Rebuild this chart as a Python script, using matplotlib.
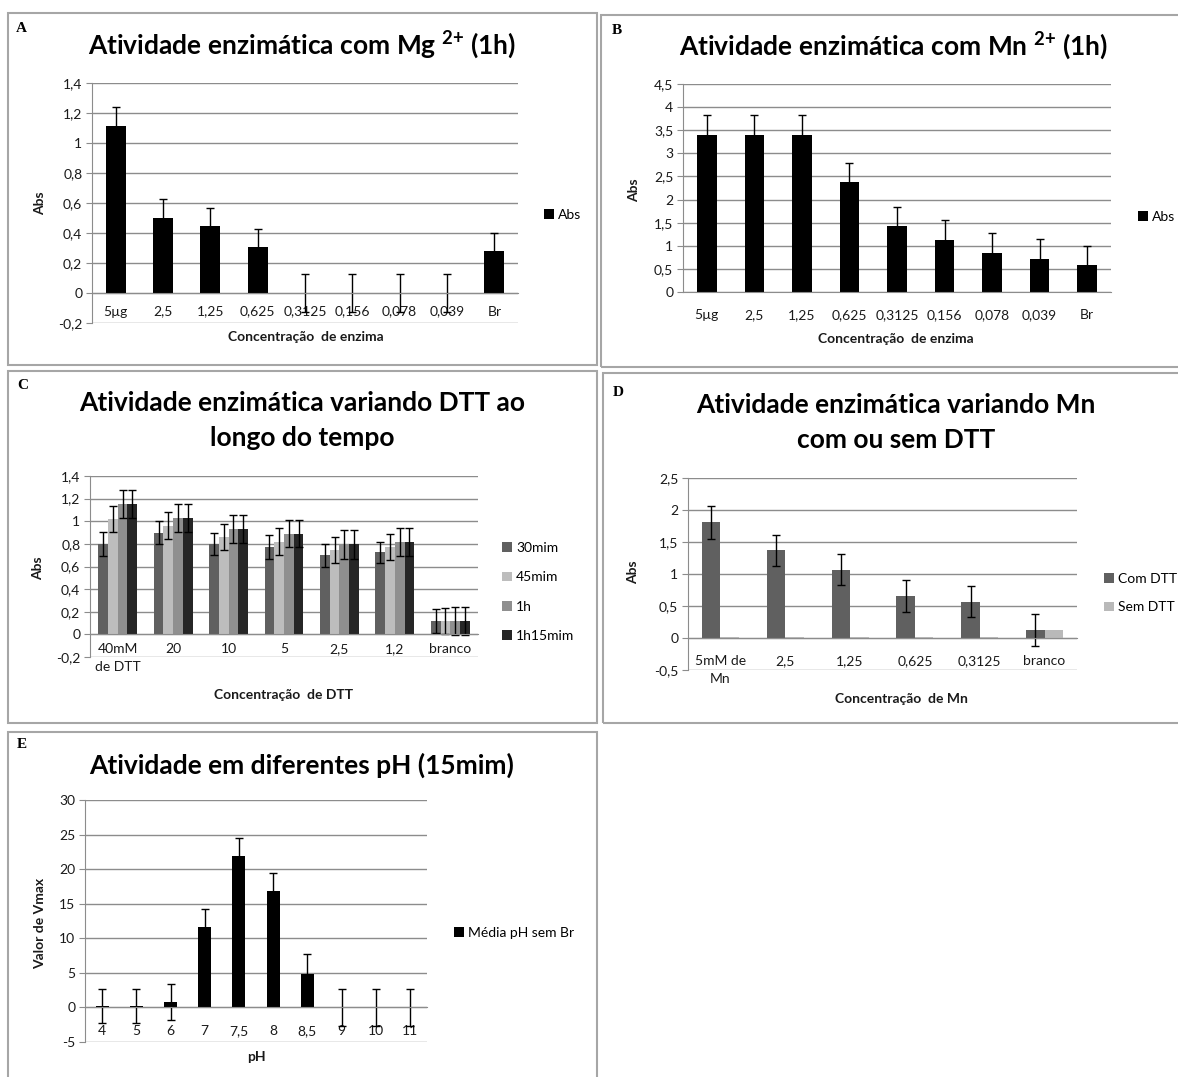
import numpy as np
import matplotlib.pyplot as plt
from matplotlib.patches import Rectangle
from matplotlib.ticker import FuncFormatter

W, H = 1178, 1077
plt.rcParams["font.family"] = ["Lato", "DejaVu Sans"]
plt.rcParams["mathtext.fontset"] = "custom"
plt.rcParams["mathtext.rm"] = "Lato"
plt.rcParams["mathtext.bf"] = "Lato:bold"

GRID = "#8c8c8c"
TXT = "#1a1a1a"

# --- A: Mg2+ ---
enz_labels = ["5µg", "2,5", "1,25", "0,625", "0,3125", "0,156", "0,078", "0,039", "Br"]
mg_abs = [1.11, 0.50, 0.445, 0.305, 0, 0, 0, 0, 0.28]
mg_err = [0.13, 0.13, 0.12, 0.12, 0.125, 0.125, 0.125, 0.125, 0.12]

# --- B: Mn2+ ---
mn_abs = [3.40, 3.40, 3.40, 2.37, 1.42, 1.12, 0.85, 0.72, 0.58]
mn_err = [0.42, 0.42, 0.42, 0.42, 0.42, 0.43, 0.42, 0.42, 0.42]

# --- C: DTT over time ---
dtt_labels = ["40mM\nde DTT", "20", "10", "5", "2,5", "1,2", "branco"]
dtt_series = ["30mim", "45mim", "1h", "1h15mim"]
dtt_30 = [0.80, 0.90, 0.80, 0.77, 0.70, 0.725, 0.12]
dtt_45 = [1.02, 0.96, 0.865, 0.82, 0.75, 0.77, 0.12]
dtt_1h = [1.15, 1.03, 0.93, 0.89, 0.795, 0.815, 0.12]
dtt_1h15 = [1.15, 1.03, 0.93, 0.89, 0.795, 0.815, 0.12]
err_30 = [0.105, 0.10, 0.095, 0.105, 0.10, 0.095, 0.105]
err_45 = [0.115, 0.12, 0.115, 0.12, 0.115, 0.115, 0.115]
err_1h = [0.125, 0.125, 0.125, 0.12, 0.125, 0.125, 0.125]
err_1h15 = [0.125, 0.125, 0.125, 0.12, 0.125, 0.125, 0.125]
dtt_colors = ["#606060", "#bdbdbd", "#8f8f8f", "#262626"]

# --- D: Mn with / without DTT ---
mnc_labels = ["5mM de\nMn", "2,5", "1,25", "0,625", "0,3125", "branco"]
com_dtt = [1.81, 1.37, 1.07, 0.65, 0.57, 0.13]
com_err = [0.26, 0.24, 0.24, 0.25, 0.245, 0.25]
sem_dtt = [0.02, 0.02, 0.02, 0.02, 0.02, 0.13]

# --- E: pH ---
ph_labels = ["4", "5", "6", "7", "7,5", "8", "8,5", "9", "10", "11"]
vmax = [0.2, 0.2, 0.8, 11.6, 21.9, 16.8, 4.9, 0, 0, 0]
vmax_err = [2.5, 2.5, 2.6, 2.6, 2.6, 2.6, 2.8, 2.7, 2.7, 2.7]


def fx(x):
    return x / W


def fy(y):
    return 1 - y / H


def px_axes(fig, x0, y0, x1, y1):
    return fig.add_axes([fx(x0), fy(y1), (x1 - x0) / W, (y1 - y0) / H])


def comma(v, pos):
    return f"{round(v, 4):g}".replace(".", ",")


def style_axes(ax, lo, hi, step, labels, pad=9):
    ax.set_ylim(lo, hi)
    ax.set_yticks(np.arange(lo, hi + step / 2, step))
    ax.yaxis.set_major_formatter(FuncFormatter(comma))
    ax.grid(axis="y", color=GRID, lw=1)
    ax.set_axisbelow(True)
    for s in ["top", "right"]:
        ax.spines[s].set_visible(False)
    ax.spines["left"].set_color(GRID)
    ax.spines["bottom"].set_position(("data", 0))
    ax.spines["bottom"].set_color(GRID)
    ax.tick_params(axis="y", length=4, color=GRID, labelsize=10, pad=3, labelcolor=TXT)
    ax.tick_params(axis="x", length=0, labelsize=10, pad=pad, labelcolor=TXT)
    ax.set_xticks(range(len(labels)))
    ax.set_xticklabels(labels, linespacing=1.65)
    ax.set_xlim(-0.5, len(labels) - 0.5)


def legend(ax, x, y, spacing=1.2):
    ax.legend(loc="center left", bbox_to_anchor=(fx(x), fy(y)),
              bbox_transform=ax.figure.transFigure, frameon=False,
              handlelength=0.7, handleheight=0.7, handletextpad=0.3,
              borderpad=0, borderaxespad=0, labelspacing=spacing, fontsize=10)


ekw = dict(ecolor="black", elinewidth=1, capsize=3, capthick=1)

fig = plt.figure(figsize=(W / 100, H / 100), dpi=100)

# panel frames
for x0, y0, x1, y1 in [(8, 13, 597, 365), (601, 15, 1200, 367),
                       (8, 371, 597, 723), (603, 373, 1200, 723),
                       (8, 732, 597, 1100)]:
    fig.add_artist(Rectangle((fx(x0), fy(y1)), (x1 - x0) / W, (y1 - y0) / H,
                             transform=fig.transFigure, fill=False,
                             edgecolor="#a6a6a6", lw=1.5))

letter_kw = dict(family="Liberation Serif", fontweight="bold", fontsize=11,
                 ha="left", va="center")
title_kw = dict(fontsize=19, fontweight="bold", ha="center", va="center", color="black")
lab_kw = dict(fontsize=10, fontweight="bold", ha="center", va="center", color=TXT)

# A
ax = px_axes(fig, 92, 83, 518, 323)
x = np.arange(len(enz_labels))
ax.bar(x, mg_abs, 0.42, color="black", yerr=mg_err, error_kw=ekw, label="Abs")
style_axes(ax, -0.2, 1.4, 0.2, enz_labels)
legend(ax, 544, 215)
fig.text(fx(16), fy(28), "A", **letter_kw)
fig.text(fx(302), fy(45), r"Atividade enzimática com Mg $^{\mathbf{2{+}}}$ (1h)", **title_kw)
fig.text(fx(40), fy(203), "Abs", rotation=90, **lab_kw)
fig.text(fx(306), fy(337), "Concentração  de enzima", **lab_kw)

# B
ax = px_axes(fig, 683, 84, 1111, 292)
ax.bar(x, mn_abs, 0.41, color="black", yerr=mn_err, error_kw=ekw, label="Abs")
style_axes(ax, 0, 4.5, 0.5, enz_labels, pad=12)
legend(ax, 1138, 217)
fig.text(fx(612), fy(30), "B", **letter_kw)
fig.text(fx(893), fy(46), r"Atividade enzimática com Mn $^{\mathbf{2{+}}}$ (1h)", **title_kw)
fig.text(fx(634), fy(190), "Abs", rotation=90, **lab_kw)
fig.text(fx(896), fy(339), "Concentração  de enzima", **lab_kw)

# C
ax = px_axes(fig, 90, 476, 478, 657)
x = np.arange(len(dtt_labels))
w = 0.175
for i, (vals, errs) in enumerate(zip([dtt_30, dtt_45, dtt_1h, dtt_1h15],
                                     [err_30, err_45, err_1h, err_1h15])):
    ax.bar(x + (i - 1.5) * w, vals, w, color=dtt_colors[i], yerr=errs,
           error_kw=ekw, label=dtt_series[i])
style_axes(ax, -0.2, 1.4, 0.2, dtt_labels, pad=6)
legend(ax, 502, 592, spacing=1.25)
fig.text(fx(17), fy(385), "C", **letter_kw)
fig.text(fx(302), fy(403), "Atividade enzimática variando DTT ao", **title_kw)
fig.text(fx(302), fy(438), "longo do tempo", **title_kw)
fig.text(fx(38), fy(568), "Abs", rotation=90, **lab_kw)
fig.text(fx(284), fy(695), "Concentração  de DTT", **lab_kw)

# D
ax = px_axes(fig, 688, 478, 1077, 670)
x = np.arange(len(mnc_labels))
w = 0.285
ax.bar(x - w / 2, com_dtt, w, color="#606060", yerr=com_err, error_kw=ekw, label="Com DTT")
ax.bar(x + w / 2, sem_dtt, w, color="#b9b9b9", label="Sem DTT")
style_axes(ax, -0.5, 2.5, 0.5, mnc_labels, pad=12)
legend(ax, 1104, 593)
fig.text(fx(613), fy(392), "D", **letter_kw)
fig.text(fx(896), fy(405), "Atividade enzimática variando Mn", **title_kw)
fig.text(fx(896), fy(440), "com ou sem DTT", **title_kw)
fig.text(fx(633), fy(572), "Abs", rotation=90, **lab_kw)
fig.text(fx(901), fy(699), "Concentração  de Mn", **lab_kw)

# E
ax = px_axes(fig, 85, 800, 427, 1042)
x = np.arange(len(ph_labels))
ax.bar(x, vmax, 0.38, color="black", yerr=vmax_err, error_kw=ekw, label="Média pH sem Br")
style_axes(ax, -5, 30, 5, ph_labels, pad=13)
legend(ax, 454, 933)
fig.text(fx(17), fy(745), "E", **letter_kw)
fig.text(fx(302), fy(765), "Atividade em diferentes pH (15mim)", **title_kw)
fig.text(fx(40), fy(923), "Valor de Vmax", rotation=90, **lab_kw)
fig.text(fx(256), fy(1057), "pH", **lab_kw)

fig.savefig("out.png", dpi=100)
